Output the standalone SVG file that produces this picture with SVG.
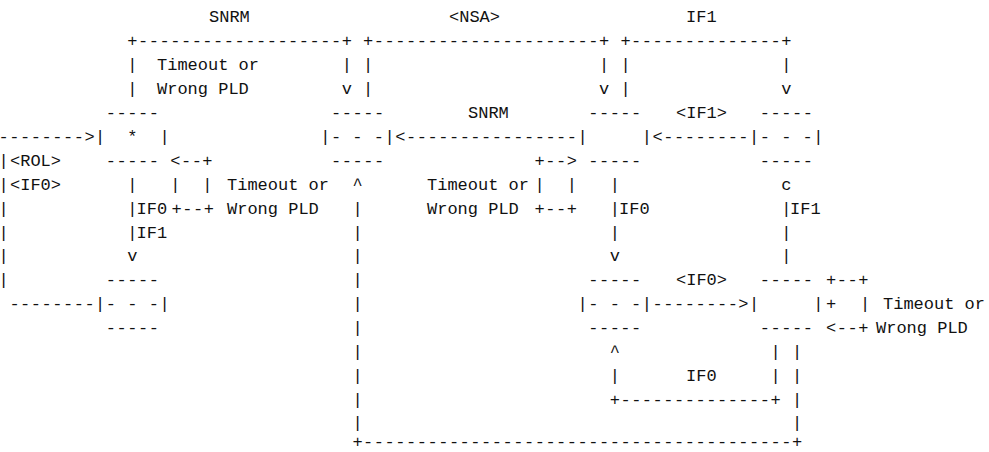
<svg xmlns="http://www.w3.org/2000/svg" width="989" height="452" viewBox="0 0 989 452" xml:space="preserve">
<style>
text { font-family: "Liberation Mono", "DejaVu Sans Mono", monospace; font-size: 17px; letter-spacing: 0.52px; fill: #111; white-space: pre; }
#labels text { letter-spacing: 0; }
</style>
<rect width="989" height="452" fill="#ffffff"/>
<g id="connectors">
<text x="127.3" y="45.9">+-------------------+</text>
<text x="363.1" y="45.9">+---------------------+</text>
<text x="620.4" y="45.9">+--------------+</text>
<text x="127.3" y="69.9">|</text><text x="341.7" y="69.9">|</text><text x="363.1" y="69.9">|</text><text x="599" y="69.9">|</text><text x="620.4" y="69.9">|</text><text x="781.2" y="69.9">|</text>
<text x="127.3" y="93.8">|</text><text x="341.7" y="93.8">v</text><text x="363.1" y="93.8">|</text><text x="599" y="93.8">v</text><text x="620.4" y="93.8">|</text><text x="781.2" y="93.8">v</text>
<text x="-1.4" y="141.7">--------&gt;</text>
<text x="395.3" y="141.7">&lt;----------------</text>
<text x="652.6" y="141.7">&lt;--------</text>
<text x="-1.4" y="165.6">|</text><text x="170.2" y="165.6">&lt;--+</text><text x="534.6" y="165.6">+--&gt;</text>
<text x="-1.4" y="189.6">|</text><text x="127.3" y="189.6">|</text><text x="170.2" y="189.6">|</text><text x="202.3" y="189.6">|</text><text x="352.4" y="189.6">^</text><text x="534.6" y="189.6">|</text><text x="566.8" y="189.6">|</text><text x="609.7" y="189.6">|</text>
<text x="-1.4" y="213.5">|</text><text x="127.3" y="213.5">|</text><text x="171.5" y="213.5">+--+</text><text x="352.4" y="213.5">|</text><text x="534.6" y="213.5">+--+</text><text x="609.7" y="213.5">|</text><text x="781.2" y="213.5">|</text>
<text x="-1.4" y="237.5">|</text><text x="127.3" y="237.5">|</text><text x="352.4" y="237.5">|</text><text x="609.7" y="237.5">|</text><text x="781.2" y="237.5">|</text>
<text x="-1.4" y="261.4">|</text><text x="127.3" y="261.4">v</text><text x="352.4" y="261.4">|</text><text x="609.7" y="261.4">v</text><text x="781.2" y="261.4">|</text>
<text x="-1.4" y="285.3">|</text><text x="352.4" y="285.3">|</text><text x="826" y="285.3">+--+</text>
<text x="9.4" y="309.3">--------</text><text x="352.4" y="309.3">|</text><text x="652.6" y="309.3">--------&gt;</text><text x="826" y="309.3">+</text><text x="860" y="309.3">|</text>
<text x="352.4" y="333.2">|</text><text x="826" y="333.2">&lt;--+</text>
<text x="352.4" y="357.2">|</text><text x="609.7" y="357.2">^</text><text x="770.5" y="357.2">|</text><text x="791.9" y="357.2">|</text>
<text x="352.4" y="381.1">|</text><text x="609.7" y="381.1">|</text><text x="770.5" y="381.1">|</text><text x="791.9" y="381.1">|</text>
<text x="352.4" y="404.5">|</text><text x="609.7" y="404.5">+--------------+</text><text x="791.9" y="404.5">|</text>
<text x="352.4" y="427.5">|</text><text x="791.9" y="427.5">|</text>
<text x="352.4" y="446.5">+----------------------------------------+</text>
</g>
<g id="labels">
<text x="209" y="22">SNRM</text>
<text x="449" y="22">&lt;NSA&gt;</text>
<text x="686" y="22">IF1</text>
<text x="157" y="69.9">Timeout or</text>
<text x="157" y="93.8">Wrong PLD</text>
<text x="468" y="117.8">SNRM</text>
<text x="676" y="117.8">&lt;IF1&gt;</text>
<text x="10" y="165.6">&lt;ROL&gt;</text>
<text x="10" y="189.6">&lt;IF0&gt;</text>
<text x="227" y="189.6">Timeout or</text>
<text x="427" y="189.6">Timeout or</text>
<text x="781.2" y="189.6">c</text>
<text x="136.5" y="213.5">IF0</text>
<text x="227" y="213.5">Wrong PLD</text>
<text x="427" y="213.5">Wrong PLD</text>
<text x="619" y="213.5">IF0</text>
<text x="790" y="213.5">IF1</text>
<text x="136.5" y="237.5">IF1</text>
<text x="676" y="285.3">&lt;IF0&gt;</text>
<text x="883" y="309.3">Timeout or</text>
<text x="876" y="333.2">Wrong PLD</text>
<text x="686" y="381.1">IF0</text>
</g>
<g id="node-start">
<text x="105.8" y="117.8">-----</text>
<text x="95.1" y="141.7">|  *  |</text>
<text x="105.8" y="165.6">-----</text>
</g>
<g id="node-2">
<text x="331" y="117.8">-----</text>
<text x="320.2" y="141.7">|- - -|</text>
<text x="331" y="165.6">-----</text>
</g>
<g id="node-3">
<text x="588.2" y="117.8">-----</text>
<text x="577.5" y="141.7">|     |</text>
<text x="588.2" y="165.6">-----</text>
</g>
<g id="node-4">
<text x="759.8" y="117.8">-----</text>
<text x="749" y="141.7">|- - -|</text>
<text x="759.8" y="165.6">-----</text>
</g>
<g id="node-5">
<text x="105.8" y="285.3">-----</text>
<text x="95.1" y="309.3">|- - -|</text>
<text x="105.8" y="333.2">-----</text>
</g>
<g id="node-6">
<text x="588.2" y="285.3">-----</text>
<text x="577.5" y="309.3">|- - -|</text>
<text x="588.2" y="333.2">-----</text>
</g>
<g id="node-7">
<text x="759.8" y="285.3">-----</text>
<text x="749" y="309.3">|     |</text>
<text x="759.8" y="333.2">-----</text>
</g>
</svg>
